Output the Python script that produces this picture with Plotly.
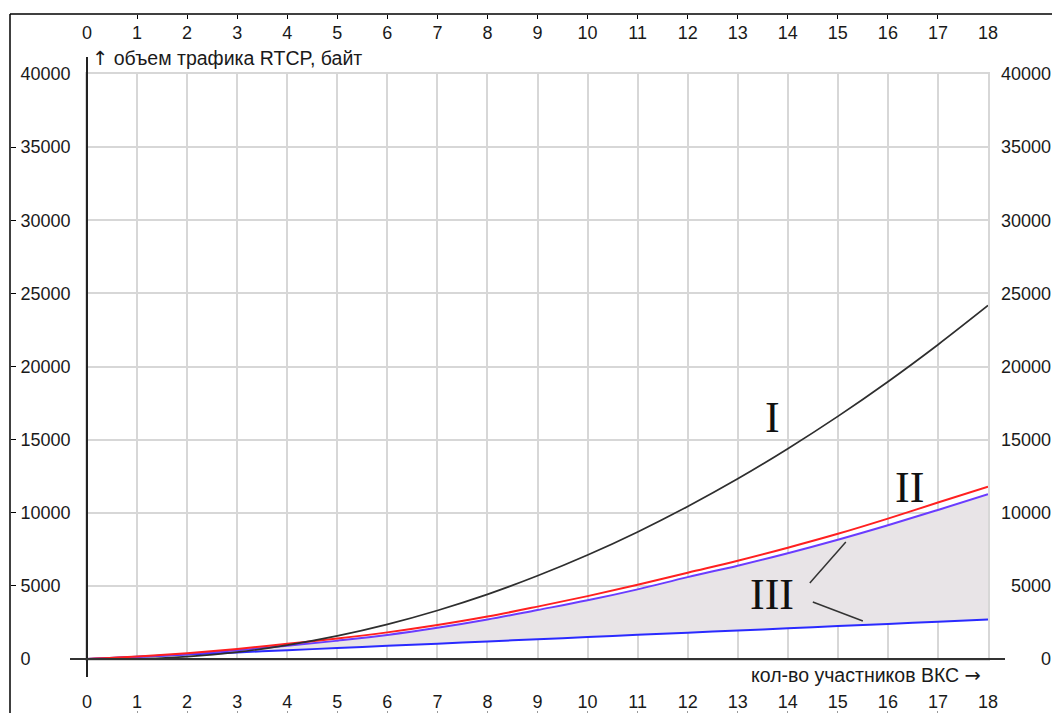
import plotly.graph_objects as go

# ---- data ----
participants = list(range(19))
traffic_I = [0, 0, 160, 470, 950, 1580, 2370, 3320, 4420, 5690, 7110, 8690,
             10430, 12320, 14380, 16590, 18960, 21490, 24170]
traffic_II = [0, 170, 400, 690, 1040, 1400, 1820, 2320, 2900, 3580, 4300, 5070,
              5900, 6720, 7610, 8560, 9600, 10700, 11780]
traffic_III_upper = [0, 140, 340, 590, 900, 1250, 1640, 2130, 2700, 3350, 4010,
                     4760, 5600, 6380, 7230, 8150, 9140, 10190, 11260]
traffic_III_lower = [0, 150, 300, 450, 600, 750, 900, 1050, 1200, 1350, 1500,
                     1650, 1800, 1950, 2100, 2250, 2400, 2550, 2700]
x_ticks = list(range(0, 19))
x_tick_text = [str(v) for v in x_ticks]
y_ticks = list(range(0, 40001, 5000))
y_tick_text = [str(v) for v in y_ticks]
y_title = "объем трафика RTCP, байт"
x_title = "кол-во участников ВКС"
curve_labels = ["I", "II", "III"]

W, H = 1060, 713
OFF = 8  # page body margin in the browser
def px(p):
    return (p - OFF) / W
def py(p):
    return 1 - (p - OFF) / H

FONT = "Liberation Sans"
SERIF = "Liberation Serif"
TXT = "#1a1a1a"
GRID = "#d7d7d7"

fig = go.Figure()

# shaded band III
fig.add_trace(go.Scatter(x=participants, y=traffic_III_lower, mode="lines",
                         line=dict(color="#2a2aff", width=2, shape="spline"),
                         hoverinfo="skip", showlegend=False))
fig.add_trace(go.Scatter(x=participants, y=traffic_III_upper, mode="lines",
                         line=dict(color="#6a3cff", width=2, shape="spline"),
                         fill="tonexty", fillcolor="#e8e4e7",
                         hoverinfo="skip", showlegend=False))
fig.add_trace(go.Scatter(x=participants, y=traffic_II, mode="lines",
                         line=dict(color="#ff2020", width=2, shape="spline"),
                         hoverinfo="skip", showlegend=False))
fig.add_trace(go.Scatter(x=participants, y=traffic_I, mode="lines",
                         line=dict(color="#2e2e2e", width=1.7, shape="spline"),
                         hoverinfo="skip", showlegend=False))

# invisible traces so the extra (frame) axes are drawn
for xa, ya in [("x2", "y"), ("x3", "y"), ("x", "y2"), ("x", "y3")]:
    fig.add_trace(go.Scatter(x=participants, y=traffic_III_lower, xaxis=xa, yaxis=ya,
                             mode="markers", marker=dict(opacity=0, size=1),
                             hoverinfo="skip", showlegend=False))

xdom = [px(87), px(988)]
ydom = [py(659), py(74)]

tickfont = dict(family=FONT, size=18, color=TXT)
common_x = dict(range=[0, 18], tickvals=x_ticks, ticktext=x_tick_text,
                ticklabelposition="inside", ticklabeloverflow="allow", automargin=False,
                tickfont=tickfont, showgrid=False, zeroline=False, showline=False)
common_y = dict(range=[0, 40000], tickvals=y_ticks, ticktext=y_tick_text,
                ticklabelposition="inside", ticklabeloverflow="allow", automargin=False,
                tickfont=tickfont, showgrid=False, zeroline=False, showline=False)

fig.update_layout(
    width=W, height=H,
    margin=dict(l=0, r=0, t=0, b=0, pad=0, autoexpand=False),
    paper_bgcolor="white", plot_bgcolor="white",
    xaxis=dict(domain=xdom, range=[0, 18], tickvals=x_ticks, showticklabels=False,
               ticks="", showgrid=True, gridcolor=GRID, gridwidth=1.5, automargin=False,
               zeroline=False, showline=True, linecolor=GRID, linewidth=1.5,
               mirror=True, fixedrange=True),
    yaxis=dict(domain=ydom, range=[0, 40000], tickvals=y_ticks, showticklabels=False,
               ticks="", showgrid=True, gridcolor=GRID, gridwidth=1.5, automargin=False,
               zeroline=False, showline=True, linecolor=GRID, linewidth=1.5,
               mirror=True, fixedrange=True),
    xaxis2=dict(overlaying="x", anchor="free", position=py(14), side="top",
                ticks="inside", ticklen=4, tickcolor="#000", tickwidth=1,
                ticklabelstandoff=8, **common_x),
    xaxis3=dict(overlaying="x", anchor="free", position=py(713), side="bottom",
                ticks="inside", ticklen=2, tickcolor="#999", tickwidth=1,
                ticklabelstandoff=0, **common_x),
    yaxis2=dict(overlaying="y", anchor="free", position=px(10), side="left",
                ticks="inside", ticklen=5, tickcolor="#000", tickwidth=1,
                ticklabelstandoff=5, **common_y),
    yaxis3=dict(overlaying="y", anchor="free", position=px(1060), side="right",
                ticks="", ticklabelstandoff=6, **common_y),
)

# frame lines and inner axes (decorations)
fig.add_shape(type="line", xref="paper", yref="paper", x0=px(10), x1=1, y0=py(14), y1=py(14),
              line=dict(color="#000", width=1.5))
fig.add_shape(type="line", xref="paper", yref="paper", x0=px(10), x1=px(10), y0=py(14), y1=0,
              line=dict(color="#000", width=1.5))
fig.add_shape(type="line", xref="paper", yref="paper", x0=px(87), x1=px(87), y0=py(57), y1=py(677),
              line=dict(color="#222", width=2))
fig.add_shape(type="line", xref="paper", yref="paper", x0=px(70), x1=px(1005), y0=py(659), y1=py(659),
              line=dict(color="#333", width=2))

# pointer lines for label III
fig.add_shape(type="line", xref="x", yref="y", x0=14.44, y0=5200, x1=15.16, y1=8000,
              line=dict(color="#333", width=1.5))
fig.add_shape(type="line", xref="x", yref="y", x0=14.50, y0=3900, x1=15.50, y1=2600,
              line=dict(color="#333", width=1.5))

# axis titles
arrow_style = "font-family:DejaVu Sans"
fig.add_annotation(text=f"<span style='{arrow_style}'>↑</span> " + y_title,
                   xref="paper", yref="paper", x=px(90), y=py(58),
                   xanchor="left", yanchor="middle", showarrow=False,
                   font=dict(family=FONT, size=19.5, color=TXT))
fig.add_annotation(text=x_title + " <span style='" + arrow_style + "'>→</span>",
                   xref="paper", yref="paper", x=px(983), y=py(675),
                   xanchor="right", yanchor="middle", showarrow=False,
                   font=dict(family=FONT, size=19.5, color=TXT))

# curve labels
for lab, lx, ly in zip(curve_labels, [13.70, 16.44, 13.68], [16480, 11760, 4380]):
    fig.add_annotation(text=lab, x=lx, y=ly, xref="x", yref="y", showarrow=False,
                       xanchor="center", yanchor="middle",
                       font=dict(family=SERIF, size=44, color="#111"))

fig.write_html("out.html", config={"displayModeBar": False})
